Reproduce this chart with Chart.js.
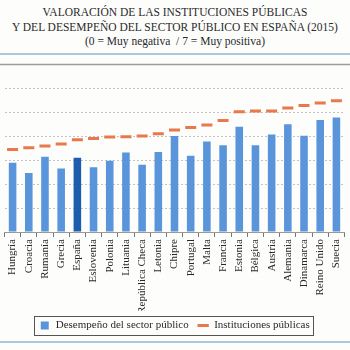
<!DOCTYPE html>
<html>
<head>
<meta charset="utf-8">
<script src="https://cdn.jsdelivr.net/npm/chart.js"></script>
<style>
body { margin: 0; width: 350px; height: 350px; overflow: hidden; background: #fdfdfc; position: relative; }
.title { position: absolute; top: 5px; left: 0; width: 350px; text-align: center; font-family: "Liberation Serif", "Times New Roman", serif; font-size: 11.5px; line-height: 14.5px; color: #2a2a2a; }
.sep { position: absolute; left: 0; width: 350px; height: 2px; background: #abc9de; }
#wrap { position: absolute; left: -4px; top: 56px; width: 357px; height: 285px; }
</style>
</head>
<body>
<div class="title">VALORACIÓN DE LAS INSTITUCIONES PÚBLICAS<br>Y DEL DESEMPEÑO DEL SECTOR PÚBLICO EN ESPAÑA (2015)<br>(0 = Muy negativa &nbsp;/ 7 = Muy positiva)</div>
<div class="sep" style="top:53px"></div>
<div id="wrap"><canvas id="grafico"></canvas></div>
<div class="sep" style="top:341px"></div>
<script>
const paises = ['Hungría', 'Croacia', 'Rumanía', 'Grecia', 'España', 'Eslovenia', 'Polonia', 'Lituania',
    'República Checa', 'Letonia', 'Chipre', 'Portugal', 'Malta', 'Francia', 'Estonia', 'Bélgica',
    'Austria', 'Alemania', 'Dinamarca', 'Reino Unido', 'Suecia'];

const desempeno = [2.89, 2.47, 3.14, 2.65, 3.10, 2.71, 2.98, 3.32, 2.81, 3.34, 4.01,
    3.19, 3.78, 3.63, 4.40, 3.63, 4.07, 4.50, 4.02, 4.68, 4.79];

const instituciones = [3.45, 3.52, 3.59, 3.68, 3.86, 3.91, 3.97, 3.98, 4.01, 4.11, 4.26,
    4.37, 4.47, 4.66, 5.03, 5.06, 5.06, 5.18, 5.29, 5.39, 5.48];

const yMin = 0;
const yMax = 7;

const azul = '#5a95db';
const azulEspana = '#1d5dae';
const naranja = '#e8794a';
const fuente = 'Liberation Serif';

const coloresBarras = paises.map(p => p == 'España' ? azulEspana : azul);

// linea gris de arriba (valor 7)
const lineaSuperior = {
    id: 'lineaSuperior',
    beforeDatasetsDraw(chart) {
        const ctx = chart.ctx;
        const y = chart.scales.y.getPixelForValue(yMax);
        ctx.save();
        ctx.strokeStyle = '#9c9c9c';
        ctx.lineWidth = 1.5;
        ctx.beginPath();
        ctx.moveTo(0, y);
        ctx.lineTo(chart.width, y);
        ctx.stroke();
        ctx.restore();
    }
};

// recuadro de la leyenda
const marcoLeyenda = {
    id: 'marcoLeyenda',
    afterDraw(chart) {
        const cajas = chart.legend.legendHitBoxes;
        if (!cajas || !cajas.length) return;
        const a = cajas[0];
        const b = cajas[cajas.length - 1];
        const ctx = chart.ctx;
        ctx.save();
        ctx.strokeStyle = '#555';
        ctx.lineWidth = 1;
        ctx.strokeRect(Math.round(a.left - 5) + 0.5, Math.round(a.top - 4) + 0.5,
            Math.round(b.left + b.width - a.left + 9), Math.round(a.height + 8));
        ctx.restore();
    }
};

new Chart(document.getElementById('grafico'), {
    data: {
        labels: paises,
        datasets: [{
            type: 'bar',
            label: 'Desempeño del sector público',
            data: desempeno,
            backgroundColor: coloresBarras,
            categoryPercentage: 0.9,
            barPercentage: 0.52,
            pointStyle: 'rect'
        }, {
            type: 'line',
            label: 'Instituciones públicas',
            data: instituciones,
            showLine: false,
            pointStyle: 'line',
            pointRadius: 5.5,
            pointHoverRadius: 5.5,
            pointBorderWidth: 3,
            borderWidth: 3,
            borderColor: naranja,
            backgroundColor: naranja
        }]
    },
    options: {
        responsive: true,
        maintainAspectRatio: false,
        animation: false,
        layout: { padding: { top: 6, left: 0, right: 0, bottom: 0 } },
        plugins: {
            title: { display: false },
            tooltip: { enabled: false },
            legend: {
                position: 'bottom',
                labels: {
                    usePointStyle: true,
                    boxHeight: 8,
                    padding: 9,
                    color: '#2a2a2a',
                    font: { family: fuente, size: 11 }
                }
            }
        },
        scales: {
            x: {
                grid: { offset: true, drawOnChartArea: false, drawTicks: true, tickLength: 5, color: '#777' },
                border: { display: true, color: '#999' },
                ticks: {
                    autoSkip: false,
                    minRotation: 90,
                    maxRotation: 90,
                    padding: 2,
                    color: '#2a2a2a',
                    font: { family: fuente, size: 11 }
                },
                afterFit: s => { s.height = 79; }
            },
            y: {
                min: yMin,
                max: yMax,
                ticks: { stepSize: 1, display: false },
                grid: { color: '#c4c4c4', drawTicks: false },
                border: { display: false, dash: [2, 2] }
            }
        }
    },
    plugins: [lineaSuperior, marcoLeyenda]
});
</script>
</body>
</html>
